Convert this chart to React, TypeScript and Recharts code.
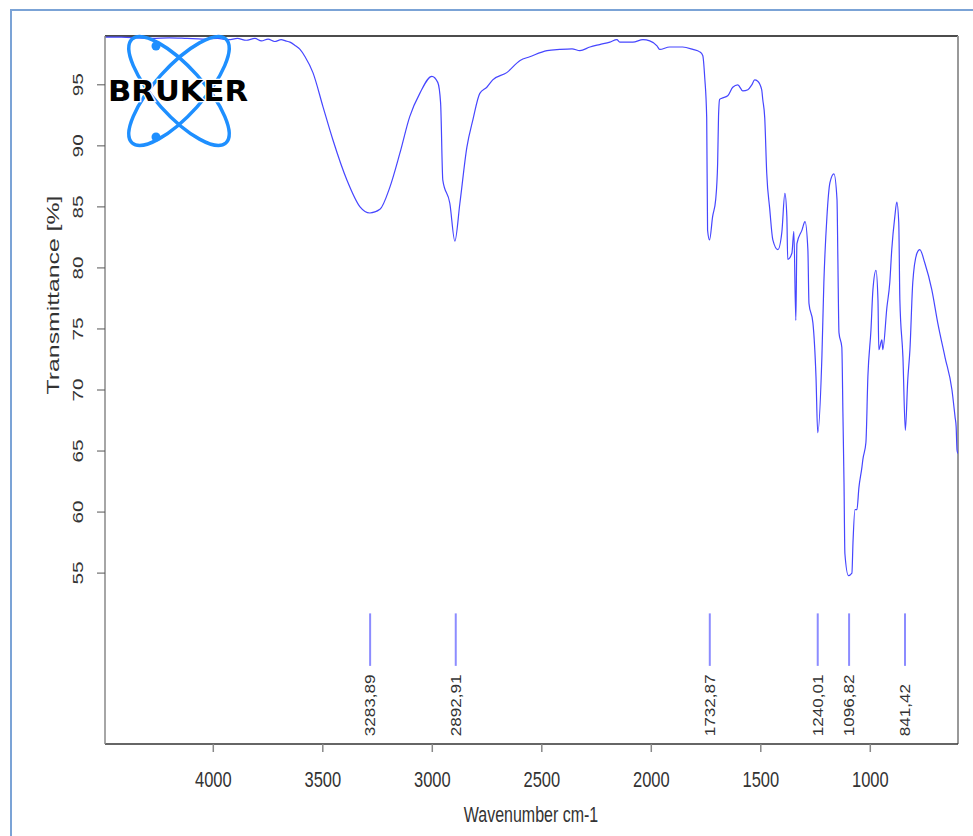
import React from 'react';
import { ComposedChart, Line, XAxis, YAxis, ReferenceLine, Scatter } from 'recharts';

// Spectrum (wavenumber cm-1, descending) and transmittance [%]
const wavenumbers = [
  4494, 4420, 4350, 4280, 4200, 4120, 4050, 3980, 3930, 3890,
  3850, 3810, 3780, 3750, 3720, 3690, 3670, 3650, 3625, 3604,
  3581, 3545, 3499, 3454, 3390, 3330, 3285, 3239, 3194, 3148,
  3103, 3057, 3002, 2975, 2962, 2952, 2920, 2897, 2874, 2842,
  2815, 2783, 2751, 2724, 2660, 2599, 2555, 2476, 2418, 2362,
  2326, 2280, 2236, 2189, 2157, 2144, 2084, 2038, 2007, 1974,
  1962, 1916, 1857, 1810, 1779, 1765, 1756, 1747, 1743, 1734,
  1720, 1706, 1697, 1693, 1688, 1678, 1651, 1628, 1605, 1582,
  1559, 1541, 1528, 1514, 1496, 1491, 1482, 1473, 1459, 1445,
  1422, 1404, 1390, 1381, 1377, 1358, 1349, 1340, 1335, 1312,
  1298, 1285, 1280, 1262, 1248, 1240, 1221, 1212, 1198, 1184,
  1166, 1152, 1148, 1143, 1130, 1125, 1120, 1116, 1100, 1084,
  1079, 1070, 1061, 1052, 1038, 1034, 1020, 1011, 997, 988,
  974, 965, 961, 947, 943, 924, 911, 902, 888, 879,
  870, 865, 851, 840, 829, 819, 806, 787, 774, 751,
  719, 692, 659, 627, 613, 608, 604, 600,
];
const transmittance = [
  98.9, 98.9, 98.85, 98.8, 98.85, 98.8, 98.75, 98.8, 98.7, 98.8,
  98.65, 98.8, 98.6, 98.75, 98.55, 98.7, 98.6, 98.5, 98.2, 97.9,
  97.3, 96.0, 93.2, 90.5, 87.2, 85.0, 84.5, 84.8, 86.6, 89.4,
  92.4, 94.3, 95.7, 95.2, 93.5, 87.2, 85.3, 82.2, 85.3, 89.9,
  92.1, 94.3, 94.8, 95.4, 96.0, 97.0, 97.3, 97.8, 97.9, 97.95,
  97.8, 98.1, 98.3, 98.5, 98.7, 98.5, 98.5, 98.7, 98.6, 98.2,
  97.9, 98.1, 98.1, 97.9, 97.7, 97.4, 95.6, 92.3, 83.1, 82.3,
  84.2, 85.6, 88.6, 92.4, 93.8, 93.9, 94.1, 94.8, 95.0, 94.5,
  94.6, 95.0, 95.4, 95.3, 94.6, 93.8, 92.3, 87.8, 84.8, 82.3,
  81.5, 82.9, 86.1, 84.2, 80.7, 81.2, 83.0, 75.7, 82.0, 83.1,
  83.8, 81.5, 77.1, 75.5, 71.1, 66.5, 72.7, 78.8, 84.2, 87.0,
  87.7, 85.6, 80.7, 74.7, 73.5, 68.1, 62.4, 56.6, 54.8, 55.0,
  57.5, 60.2, 60.2, 62.0, 63.7, 64.3, 65.7, 71.1, 74.9, 78.2,
  79.8, 77.4, 73.3, 74.1, 73.3, 76.8, 78.8, 81.5, 84.2, 85.4,
  83.7, 77.4, 72.7, 66.7, 70.8, 73.3, 78.8, 81.2, 81.5, 80.4,
  78.2, 75.5, 72.7, 70.0, 67.8, 67.0, 65.1, 64.8,
];

const xTicks = [4000, 3500, 3000, 2500, 2000, 1500, 1000];
const yTicks = [95, 90, 85, 80, 75, 70, 65, 60, 55];
const peakWavenumbers = [3283.89, 2892.91, 1732.87, 1240.01, 1096.82, 841.42];
const peakLabels = ['3283,89', '2892,91', '1732,87', '1240,01', '1096,82', '841,42'];

const X_DOMAIN: [number, number] = [599.5, 4494.5];
const Y_DOMAIN: [number, number] = [41, 99];
const PEAK_LINE_LOW = 47.4;
const PEAK_LINE_HIGH = 51.7;
const PEAK_LABEL_BASE = 41.64;

const spectrum = wavenumbers.map((w, i) => ({ w, t: transmittance[i] }));
const peakData = peakWavenumbers.map((w, i) => ({ w, t: PEAK_LABEL_BASE, label: peakLabels[i] }));

const FONT = '"Liberation Sans", Arial, sans-serif';

const XTick = (props: any) => {
  const { x, y, payload } = props;
  return (
    <g transform={`translate(${x},${y + 33}) scale(1,1.3)`}>
      <text x={0} y={0} textAnchor="middle" fontSize={16.5} fill="#333" fontFamily={FONT}>
        {payload.value}
      </text>
    </g>
  );
};

const YTick = (props: any) => {
  const { x, y, payload } = props;
  return (
    <g transform={`translate(${x - 12},${y}) rotate(-90) scale(1.48,1)`}>
      <text x={0} y={0} textAnchor="middle" fontSize={14} fill="#333" fontFamily={FONT}>
        {payload.value}
      </text>
    </g>
  );
};

const PeakLabel = (props: any) => {
  const { cx, cy, payload } = props;
  return (
    <g transform={`translate(${cx + 5},${cy}) rotate(-90) scale(1.22,1)`}>
      <text x={0} y={0} textAnchor="start" fontSize={14} fill="#333" fontFamily={FONT}>
        {payload.label}
      </text>
    </g>
  );
};

const Logo = () => (
  <svg width={973} height={836} style={{ position: 'absolute', left: 0, top: 0, pointerEvents: 'none' }}>
    <ellipse cx={179} cy={91} rx={70} ry={24} transform="rotate(48 179 91)" fill="none" stroke="#1e8fff" strokeWidth={3.5} />
    <ellipse cx={179} cy={91} rx={70} ry={24} transform="rotate(-48 179 91)" fill="none" stroke="#1e8fff" strokeWidth={3.5} />
    <circle cx={156} cy={46} r={4.5} fill="#1e8fff" />
    <circle cx={156} cy={137} r={4.5} fill="#1e8fff" />
    <text
      x={108}
      y={101}
      fontFamily='"DejaVu Sans", sans-serif'
      fontWeight="bold"
      fontSize={28}
      textLength={140}
      lengthAdjust="spacingAndGlyphs"
      fill="#000"
      stroke="#fff"
      strokeWidth={2.5}
      paintOrder="stroke"
    >
      BRUKER
    </text>
  </svg>
);

export default function App() {
  return (
    <div style={{ position: 'absolute', left: 0, top: 0, width: 973, height: 836, overflow: 'hidden', background: '#fff' }}>
      <div
        style={{
          position: 'absolute',
          left: 10,
          top: 9,
          width: 1000,
          height: 900,
          borderLeft: '2px solid #7ba3d6',
          borderTop: '2px solid #7ba3d6',
        }}
      />
      <div style={{ position: 'absolute', left: 0, top: 0 }}>
        <ComposedChart
          width={973}
          height={836}
          data={spectrum}
          margin={{ top: 36, right: 15, bottom: 52, left: 45 }}
        >
          <XAxis
            dataKey="w"
            type="number"
            domain={X_DOMAIN}
            reversed
            ticks={xTicks}
            allowDataOverflow
            height={40}
            tickSize={8}
            tickMargin={2}
            axisLine={{ stroke: '#333', strokeWidth: 1.5 }}
            tickLine={{ stroke: '#888', strokeWidth: 1.5 }}
            tick={<XTick />}
            interval={0}
          />
          <YAxis
            dataKey="t"
            type="number"
            domain={Y_DOMAIN}
            ticks={yTicks}
            allowDataOverflow
            width={60}
            tickSize={8}
            tickMargin={2}
            axisLine={{ stroke: '#888', strokeWidth: 1.5 }}
            tickLine={{ stroke: '#555', strokeWidth: 1 }}
            tick={<YTick />}
            interval={0}
          />
          <ReferenceLine y={Y_DOMAIN[1]} stroke="#111" strokeWidth={1.5} />
          <ReferenceLine x={X_DOMAIN[0]} stroke="#999" strokeWidth={2} />
          {peakWavenumbers.map((w) => (
            <ReferenceLine
              key={w}
              segment={[{ x: w, y: PEAK_LINE_LOW }, { x: w, y: PEAK_LINE_HIGH }]}
              stroke="#8c8cff"
              strokeWidth={2}
            />
          ))}
          <Line
            dataKey="t"
            type="monotone"
            stroke="#4646ff"
            strokeWidth={1.2}
            dot={false}
            activeDot={false}
            isAnimationActive={false}
          />
          <Scatter data={peakData} dataKey="t" shape={<PeakLabel />} isAnimationActive={false} />
          <text transform="translate(531,822) scale(1,1.4)" textAnchor="middle" fontSize={16} fill="#333" fontFamily={FONT}>
            Wavenumber cm-1
          </text>
          <text transform="translate(59,295) rotate(-90) scale(1.55,1)" textAnchor="middle" fontSize={16} fill="#333" fontFamily={FONT}>
            Transmittance [%]
          </text>
        </ComposedChart>
      </div>
      <Logo />
    </div>
  );
}
